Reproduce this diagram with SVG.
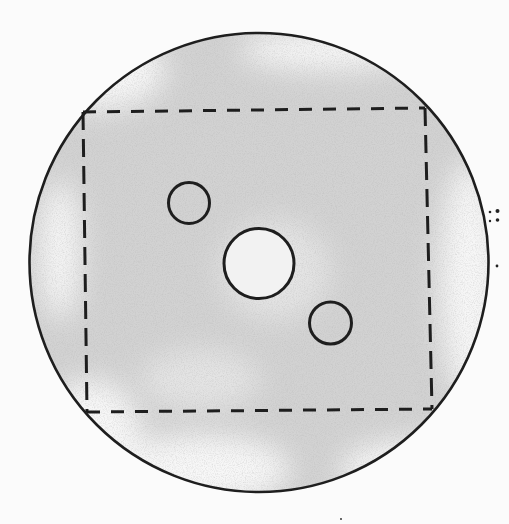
<svg xmlns="http://www.w3.org/2000/svg" width="509" height="524" viewBox="0 0 509 524">
  <defs>
    <filter id="soft" x="-20%" y="-20%" width="140%" height="140%">
      <feGaussianBlur stdDeviation="14"/>
    </filter>
    <filter id="grain" x="0" y="0" width="100%" height="100%">
      <feTurbulence type="fractalNoise" baseFrequency="0.9" numOctaves="2" seed="4" result="n"/>
      <feColorMatrix in="n" type="matrix" values="0 0 0 0 0.45  0 0 0 0 0.45  0 0 0 0 0.45  0 0 0 -2.2 1.25"/>
      <feComposite in2="SourceGraphic" operator="in"/>
    </filter>
    <clipPath id="dishClip">
      <circle cx="259" cy="262.5" r="229"/>
    </clipPath>
  </defs>
  <style>
    .ink { fill: none; stroke: #1e1e1e; stroke-width: 2.6; }
    .hole { fill: none; stroke: #1e1e1e; stroke-width: 3; }
    .dashH { fill: none; stroke: #1e1e1e; stroke-width: 3; stroke-dasharray: 13 11; }
    .dashV { fill: none; stroke: #1e1e1e; stroke-width: 3; stroke-dasharray: 18 9; }
  </style>

  <rect x="0" y="0" width="509" height="524" fill="#fbfbfb"/>

  <g id="wash" clip-path="url(#dishClip)">
    <circle cx="259" cy="262.5" r="229" fill="#d2d2d2"/>
    <g filter="url(#soft)" fill="#f7f7f7">
      <ellipse cx="95" cy="70" rx="70" ry="40"/>
      <ellipse cx="200" cy="470" rx="90" ry="35"/>
      <ellipse cx="90" cy="430" rx="50" ry="50"/>
      <ellipse cx="470" cy="280" rx="30" ry="120"/>
      <ellipse cx="420" cy="470" rx="80" ry="30"/>
      <ellipse cx="60" cy="250" rx="20" ry="70"/>
      <ellipse cx="330" cy="50" rx="90" ry="20"/>
    </g>
    <g filter="url(#soft)" fill="#e4e4e4">
      <ellipse cx="275" cy="270" rx="55" ry="50"/>
      <ellipse cx="200" cy="380" rx="60" ry="30"/>
    </g>
    <rect x="0" y="0" width="509" height="524" fill="#000" filter="url(#grain)" opacity="0.35"/>
  </g>

  <g id="dish">
    <circle class="ink" cx="259" cy="262.5" r="229.5"/>
  </g>

  <g id="frame">
    <line class="dashH" x1="83" y1="112" x2="425" y2="108"/>
    <line class="dashH" x1="87" y1="412" x2="432" y2="409"/>
    <line class="dashV" x1="83" y1="112" x2="87" y2="412"/>
    <line class="dashV" x1="425" y1="108" x2="432" y2="409"/>
  </g>

  <g id="hole-small-1">
    <circle class="hole" cx="189" cy="203" r="20.5"/>
  </g>
  <g id="hole-large">
    <circle cx="259" cy="263.5" r="34" fill="#f2f2f2"/>
    <circle class="hole" cx="259" cy="263.5" r="35"/>
  </g>
  <g id="hole-small-2">
    <circle class="hole" cx="330.5" cy="323" r="21"/>
  </g>

  <g id="marks" fill="#222">
    <circle cx="490" cy="212" r="1.3"/>
    <circle cx="497.5" cy="211" r="2"/>
    <circle cx="497.5" cy="220" r="1.8"/>
    <circle cx="490" cy="221" r="1.2"/>
    <circle cx="497" cy="266" r="1.4"/>
    <circle cx="341" cy="519" r="0.9"/>
  </g>
</svg>
